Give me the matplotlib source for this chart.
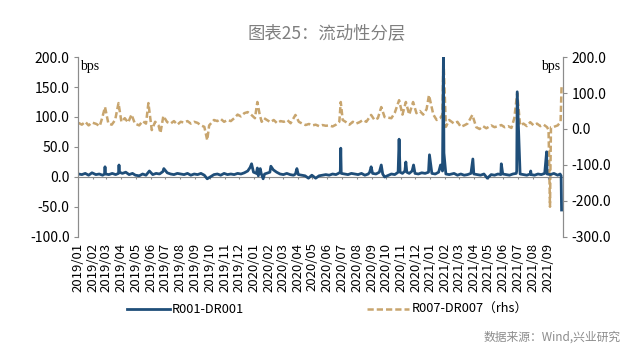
import matplotlib
matplotlib.use("Agg")
import matplotlib.pyplot as plt
import matplotlib.dates as mdates
import pandas as pd

plt.rcParams["font.family"] = ["Noto Sans CJK SC", "DejaVu Sans"]

# R001-DR001 (bps, left axis)
r001_dates = [
    "2019-01-02", "2019-01-09", "2019-01-16", "2019-01-23", "2019-01-30", "2019-02-07",
    "2019-02-14", "2019-02-21", "2019-02-25", "2019-02-26", "2019-02-27", "2019-03-06",
    "2019-03-13", "2019-03-20", "2019-03-26", "2019-03-27", "2019-03-28", "2019-04-03",
    "2019-04-10", "2019-04-17", "2019-04-24", "2019-04-30", "2019-05-08", "2019-05-15",
    "2019-05-22", "2019-05-29", "2019-06-05", "2019-06-12", "2019-06-19", "2019-06-26",
    "2019-06-28", "2019-07-05", "2019-07-12", "2019-07-19", "2019-07-26", "2019-08-02",
    "2019-08-09", "2019-08-16", "2019-08-23", "2019-08-30", "2019-09-06", "2019-09-13",
    "2019-09-20", "2019-09-26", "2019-10-10", "2019-10-17", "2019-10-24", "2019-10-31",
    "2019-11-07", "2019-11-14", "2019-11-21", "2019-11-28", "2019-12-05", "2019-12-12",
    "2019-12-19", "2019-12-24", "2019-12-27", "2019-12-31", "2020-01-06", "2020-01-08",
    "2020-01-10", "2020-01-14", "2020-01-16", "2020-01-20", "2020-01-23", "2020-02-03",
    "2020-02-05", "2020-02-10", "2020-02-17", "2020-02-24", "2020-03-02", "2020-03-09",
    "2020-03-16", "2020-03-23", "2020-03-27", "2020-03-30", "2020-04-02", "2020-04-09",
    "2020-04-16", "2020-04-23", "2020-04-30", "2020-05-08", "2020-05-15", "2020-05-22",
    "2020-05-29", "2020-06-05", "2020-06-12", "2020-06-19", "2020-06-24", "2020-06-28",
    "2020-06-29", "2020-06-30", "2020-07-07", "2020-07-14", "2020-07-21", "2020-07-28",
    "2020-08-04", "2020-08-11", "2020-08-18", "2020-08-25", "2020-08-28", "2020-08-31",
    "2020-09-03", "2020-09-10", "2020-09-17", "2020-09-21", "2020-09-24", "2020-09-28",
    "2020-10-12", "2020-10-19", "2020-10-26", "2020-10-28", "2020-10-30", "2020-11-04",
    "2020-11-09", "2020-11-11", "2020-11-13", "2020-11-18", "2020-11-24", "2020-11-27",
    "2020-11-30", "2020-12-07", "2020-12-14", "2020-12-21", "2020-12-28", "2020-12-30",
    "2021-01-04", "2021-01-11", "2021-01-18", "2021-01-22", "2021-01-26", "2021-01-28",
    "2021-01-29", "2021-02-02", "2021-02-09", "2021-02-19", "2021-02-26", "2021-03-05",
    "2021-03-12", "2021-03-19", "2021-03-26", "2021-03-30", "2021-04-01", "2021-04-08",
    "2021-04-15", "2021-04-22", "2021-04-29", "2021-05-07", "2021-05-14", "2021-05-21",
    "2021-05-27", "2021-05-28", "2021-05-31", "2021-06-07", "2021-06-14", "2021-06-21",
    "2021-06-28", "2021-06-29", "2021-06-30", "2021-07-06", "2021-07-13", "2021-07-20",
    "2021-07-27", "2021-07-28", "2021-07-29", "2021-08-05", "2021-08-12", "2021-08-19",
    "2021-08-26", "2021-08-30", "2021-08-31", "2021-09-07", "2021-09-14", "2021-09-22",
    "2021-09-27", "2021-09-29", "2021-09-30",
]
r001_vals = [
    5, 4, 6, 3, 7, 4,
    5, 3, 5, 17, 5, 4,
    6, 4, 6, 20, 8, 6,
    8, 4, 6, 3, 2, 5,
    3, 10, 4, 6, 5, 9,
    14, 7, 5, 4, 6, 5,
    4, 6, 3, 5, 4, 6,
    3, -3, 4, 5, 3, 6,
    4, 5, 4, 6, 5, 7,
    10, 16, 22, 8, 6, 15,
    2, 14, 6, -3, 5, 8,
    18, 12, 8, 5, 4, 6,
    4, 3, 5, 14, 4, 3,
    2, -2, 3, -2, 2, 3,
    4, 3, 5, 4, 6, 8,
    48, 6, 5, 4, 6, 5,
    4, 6, 3, 5, 8, 17,
    6, 5, 8, 20, 5, 0,
    5, 4, 8, 63, 8, 6,
    10, 25, 8, 6, 10, 20,
    6, 5, 7, 6, 8, 37,
    6, 5, 8, 20, 10, 205,
    40, 5, 4, 6, 3, 5,
    3, 4, 6, 30, 5, 4,
    3, 5, -2, 4, 3, 5,
    4, 22, 5, 4, 3, 5,
    6, 10, 142, 5, 4, 3,
    5, 10, 4, 3, 5, 4,
    6, 42, 5, 4, 6, 3,
    5, 2, -55,
]

# R007-DR007 (bps, right axis)
r007_dates = [
    "2019-01-02", "2019-01-09", "2019-01-16", "2019-01-23", "2019-01-30", "2019-02-08",
    "2019-02-15", "2019-02-20", "2019-02-26", "2019-03-05", "2019-03-12", "2019-03-19",
    "2019-03-26", "2019-04-01", "2019-04-08", "2019-04-15", "2019-04-22", "2019-04-29",
    "2019-05-08", "2019-05-15", "2019-05-22", "2019-05-27", "2019-06-03", "2019-06-10",
    "2019-06-17", "2019-06-21", "2019-06-27", "2019-07-05", "2019-07-12", "2019-07-19",
    "2019-07-26", "2019-08-02", "2019-08-09", "2019-08-16", "2019-08-23", "2019-08-30",
    "2019-09-06", "2019-09-13", "2019-09-20", "2019-09-26", "2019-09-30", "2019-10-10",
    "2019-10-17", "2019-10-24", "2019-10-31", "2019-11-07", "2019-11-14", "2019-11-21",
    "2019-11-28", "2019-12-05", "2019-12-12", "2019-12-19", "2019-12-26", "2020-01-03",
    "2020-01-08", "2020-01-13", "2020-01-17", "2020-01-22", "2020-02-04", "2020-02-11",
    "2020-02-18", "2020-02-25", "2020-03-03", "2020-03-10", "2020-03-17", "2020-03-27",
    "2020-04-03", "2020-04-10", "2020-04-17", "2020-04-24", "2020-05-01", "2020-05-08",
    "2020-05-15", "2020-05-22", "2020-05-29", "2020-06-05", "2020-06-12", "2020-06-19",
    "2020-06-26", "2020-06-29", "2020-07-03", "2020-07-10", "2020-07-17", "2020-07-24",
    "2020-07-31", "2020-08-07", "2020-08-14", "2020-08-21", "2020-08-31", "2020-09-07",
    "2020-09-14", "2020-09-21", "2020-09-28", "2020-10-12", "2020-10-19", "2020-10-28",
    "2020-11-04", "2020-11-11", "2020-11-18", "2020-11-26", "2020-12-03", "2020-12-10",
    "2020-12-17", "2020-12-24", "2020-12-29", "2021-01-07", "2021-01-14", "2021-01-21",
    "2021-01-26", "2021-01-28", "2021-02-02", "2021-02-09", "2021-02-19", "2021-02-26",
    "2021-03-05", "2021-03-12", "2021-03-19", "2021-03-29", "2021-04-06", "2021-04-13",
    "2021-04-20", "2021-04-27", "2021-05-07", "2021-05-14", "2021-05-21", "2021-05-28",
    "2021-06-04", "2021-06-11", "2021-06-18", "2021-06-24", "2021-06-30", "2021-07-06",
    "2021-07-13", "2021-07-20", "2021-07-27", "2021-08-03", "2021-08-10", "2021-08-17",
    "2021-08-24", "2021-08-31", "2021-09-03", "2021-09-06", "2021-09-08", "2021-09-14",
    "2021-09-22", "2021-09-28", "2021-09-30",
]
r007_vals = [
    17, 12, 20, 10, 18, 14,
    8, 30, 61, 15, 12, 25,
    72, 20, 30, 18, 40, 15,
    10, 22, 15, 72, -3, 20,
    10, -11, 36, 19, 15, 22,
    12, 20, 18, 22, 15, 20,
    17, 10, 6, -31, 10, 25,
    22, 28, 20, 25, 22, 30,
    40, 35, 44, 47, 40, 30,
    75, 39, 20, 30, 19, 25,
    16, 22, 20, 25, 16, 39,
    20, 15, 11, 14, 10, 12,
    8, 11, 9, 10, 7, 12,
    20, 75, 25, 19, 12, 20,
    15, 19, 25, 20, 39, 25,
    30, 61, 33, 30, 45, 80,
    40, 75, 40, 75, 44, 50,
    40, 55, 94, 40, 25, 30,
    40, 200, 6, 25, 15, 20,
    6, 10, 15, 39, 5, 0,
    8, 2, 10, 5, 8, 11,
    5, 8, 3, 30, 100, 10,
    15, 8, 19, 10, 15, 8,
    12, 5, -3, -216, 5, 6,
    10, 20, 120,
]

month_ticks = pd.date_range("2019-01-01", "2021-09-01", freq="MS")

BLUE = "#1f4e79"
TAN = "#c8a56e"
GREY = "#8c8c8c"

fig = plt.figure(figsize=(6.4, 3.51), dpi=100)
ax = fig.add_axes([0.1219, 0.3248, 0.7578, 0.5128])
ax2 = ax.twinx()

ax2.plot(pd.to_datetime(r007_dates), r007_vals, color=TAN, lw=1.8,
         linestyle=(0, (2.5, 1.2)), label="R007-DR007（rhs）")
ax.plot(pd.to_datetime(r001_dates), r001_vals, color=BLUE, lw=2.0,
        label="R001-DR001")
ax.set_zorder(ax2.get_zorder() + 1)
ax.patch.set_visible(False)

ax.set_xlim(pd.Timestamp("2019-01-01"), pd.Timestamp("2021-10-03"))
ax.set_ylim(-100, 200)
ax.set_yticks([-100, -50, 0, 50, 100, 150, 200])
ax.yaxis.set_major_formatter(matplotlib.ticker.FormatStrFormatter("%.1f"))
ax2.set_ylim(-300, 200)
ax2.set_yticks([-300, -200, -100, 0, 100, 200])
ax2.yaxis.set_major_formatter(matplotlib.ticker.FormatStrFormatter("%.1f"))

ax.set_xticks(month_ticks)
ax.xaxis.set_major_formatter(mdates.DateFormatter("%Y/%m"))
ax.tick_params(axis="x", length=0, rotation=90, labelsize=9.5, pad=4)
ax.tick_params(axis="y", labelsize=10, color=GREY, length=3, pad=3)
ax2.tick_params(axis="y", labelsize=10, color=GREY, length=3, pad=3)

for a in (ax, ax2):
    a.spines["top"].set_visible(False)
    a.spines["bottom"].set_visible(False)
    a.spines["left"].set_color(GREY)
    a.spines["right"].set_color(GREY)

# zero line with month tick marks hanging below
ax.axhline(0, color=GREY, lw=0.8, zorder=1)
ax.vlines(month_ticks, -3, 0, color=GREY, lw=0.8, zorder=1)

ax.text(0.005, 0.985, "bps", transform=ax.transAxes, ha="left", va="top",
        fontsize=10, family="Liberation Serif")
ax.text(0.995, 0.985, "bps", transform=ax.transAxes, ha="right", va="top",
        fontsize=10, family="Liberation Serif")

fig.text(0.51, 0.905, "图表25：流动性分层", ha="center", va="center",
         fontsize=12.5, color="#7f7f7f")

h1, l1 = ax.get_legend_handles_labels()
h2, l2 = ax2.get_legend_handles_labels()
fig.legend(h1 + h2, l1 + l2, loc="center", bbox_to_anchor=(0.512, 0.118), ncol=2,
           frameon=False, fontsize=9.2, columnspacing=9.6, handlelength=3.3,
           handletextpad=0.2)

fig.text(0.97, 0.04, "数据来源：Wind,兴业研究", ha="right", va="center",
         fontsize=8.5, color="#8c8c8c")

fig.savefig("out.png", dpi=100)
